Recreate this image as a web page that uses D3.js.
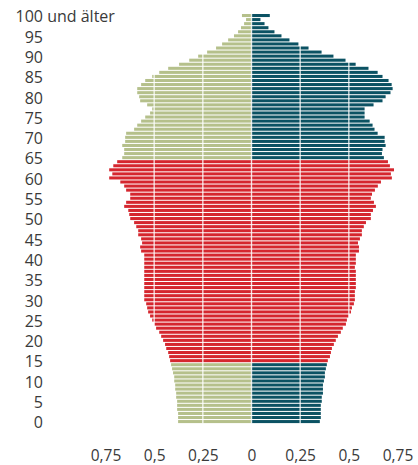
<!DOCTYPE html>
<html>
<head>
<meta charset="utf-8">
<script src="https://cdn.jsdelivr.net/npm/d3@7"></script>
<style>
  body { margin: 0; background: #fff; }
  text { font-family: "Open Sans", "Noto Sans", sans-serif; fill: #3a3a3a; }
</style>
</head>
<body>
<svg id="chart" width="418" height="465"></svg>
<script>
// Alterspyramide, Anteile in Prozent je Altersjahr
// ages run 100 (top) down to 0, values below are listed in that order

var ages = d3.range(100, -1, -1);

var maenner = [
  0.049, 0.028, 0.038, 0.054, 0.069, 0.090, 0.120, 0.151, 0.182, 0.228,
  0.274, 0.320, 0.372, 0.428, 0.474, 0.510, 0.546, 0.567, 0.587, 0.587,
  0.577, 0.572, 0.536, 0.510, 0.521, 0.546, 0.567, 0.587, 0.603, 0.644,
  0.649, 0.649, 0.664, 0.654, 0.654, 0.664, 0.690, 0.710, 0.731, 0.715,
  0.731, 0.674, 0.654, 0.644, 0.623, 0.623, 0.644, 0.654, 0.633, 0.628,
  0.623, 0.603, 0.592, 0.582, 0.582, 0.567, 0.562, 0.572, 0.567, 0.551,
  0.551, 0.551, 0.551, 0.551, 0.551, 0.551, 0.551, 0.551, 0.551, 0.551,
  0.551, 0.541, 0.536, 0.531, 0.521, 0.510, 0.500, 0.490, 0.474, 0.464,
  0.454, 0.444, 0.438, 0.428, 0.423, 0.418, 0.413, 0.408, 0.403, 0.397,
  0.397, 0.392, 0.392, 0.387, 0.387, 0.382, 0.382, 0.382, 0.377, 0.377,
  0.377
];

var frauen = [
  0.094, 0.046, 0.067, 0.087, 0.118, 0.154, 0.195, 0.241, 0.293, 0.360,
  0.421, 0.483, 0.535, 0.601, 0.648, 0.673, 0.704, 0.720, 0.725, 0.714,
  0.689, 0.673, 0.627, 0.581, 0.581, 0.581, 0.607, 0.622, 0.632, 0.648,
  0.684, 0.684, 0.689, 0.673, 0.670, 0.680, 0.701, 0.711, 0.732, 0.716,
  0.721, 0.665, 0.649, 0.634, 0.619, 0.613, 0.629, 0.639, 0.624, 0.613,
  0.613, 0.588, 0.577, 0.567, 0.567, 0.557, 0.547, 0.552, 0.552, 0.536,
  0.536, 0.536, 0.531, 0.536, 0.536, 0.536, 0.536, 0.536, 0.531, 0.531,
  0.531, 0.526, 0.516, 0.511, 0.500, 0.490, 0.485, 0.469, 0.459, 0.444,
  0.433, 0.423, 0.413, 0.408, 0.403, 0.392, 0.387, 0.382, 0.377, 0.377,
  0.372, 0.367, 0.367, 0.367, 0.361, 0.361, 0.356, 0.356, 0.356, 0.356,
  0.351
];

var ageTicks = d3.range(100, -1, -5);
var tickValues = [-0.75, -0.5, -0.25, 0, 0.25, 0.5, 0.75];
var gridValues = [-0.5, -0.25, 0, 0.25, 0.5];

var colors = {
  left: "#b5c08b",
  right: "#0b5263",
  middle: "#d5262e"
};

var svg = d3.select("#chart");

var x = d3.scaleLinear()
    .domain([-0.75, 0.75])
    .range([105.5, 397.5]);

var y = d3.scaleBand()
    .domain(ages)
    .range([13.5, 423.6])
    .paddingInner(0.25)
    .paddingOuter(0.125);

function barColor(age, side) {
  if (age >= 15 && age < 65)
    return colors.middle;
  return colors[side];
}

var rows = ages.map(function(a, i) { return { age: a, m: maenner[i], f: frauen[i] }; });

var bars = svg.append("g");

bars.selectAll(".left")
  .data(rows)
  .enter().append("rect")
    .attr("class", "left")
    .attr("x", function(d) { return x(-d.m); })
    .attr("y", function(d) { return y(d.age); })
    .attr("width", function(d) { return x(0) - x(-d.m); })
    .attr("height", y.bandwidth())
    .attr("fill", function(d) { return barColor(d.age, "left"); });

bars.selectAll(".right")
  .data(rows)
  .enter().append("rect")
    .attr("class", "right")
    .attr("x", x(0))
    .attr("y", function(d) { return y(d.age); })
    .attr("width", function(d) { return x(d.f) - x(0); })
    .attr("height", y.bandwidth())
    .attr("fill", function(d) { return barColor(d.age, "right"); });

// white grid lines drawn on top of the bars
svg.append("g")
  .selectAll("line")
  .data(gridValues)
  .enter().append("line")
    .attr("x1", function(d) { return x(d); })
    .attr("x2", function(d) { return x(d); })
    .attr("y1", y.range()[0])
    .attr("y2", y.range()[1])
    .attr("stroke", "#fff")
    .attr("stroke-opacity", 0.8)
    .attr("stroke-width", 1.4);

// age labels on the left
var labelX = 43;
var ageLabels = svg.append("g").style("font-size", "16px");

ageTicks.forEach(function(a) {
  var cy = y(a) + y.bandwidth() / 2 + 0.8;
  if (a === 100) {
    var t = ageLabels.append("text")
        .attr("y", cy)
        .attr("dominant-baseline", "central")
        .text("100");
    var w = t.node().getComputedTextLength();
    t.attr("x", labelX - w).text("100 und älter");
  } else {
    ageLabels.append("text")
        .attr("x", labelX)
        .attr("y", cy)
        .attr("text-anchor", "end")
        .attr("dominant-baseline", "central")
        .text(a);
  }
});

// value axis at the bottom
var de = d3.formatLocale({ decimal: ",", thousands: ".", grouping: [3], currency: ["", " €"] });
var fmt = de.format("~g");

var xAxis = d3.axisBottom(x)
    .tickValues(tickValues)
    .tickSize(0)
    .tickPadding(0)
    .tickFormat(function(d) { return fmt(Math.abs(d)); });

var gx = svg.append("g")
    .attr("transform", "translate(0,449.5)")
    .call(xAxis);

gx.select(".domain").remove();
gx.selectAll("text")
    .attr("fill", "#3a3a3a")
    .style("font-size", "15.5px")
    .style("font-family", "\"Open Sans\", \"Noto Sans\", sans-serif");
</script>
</body>
</html>
